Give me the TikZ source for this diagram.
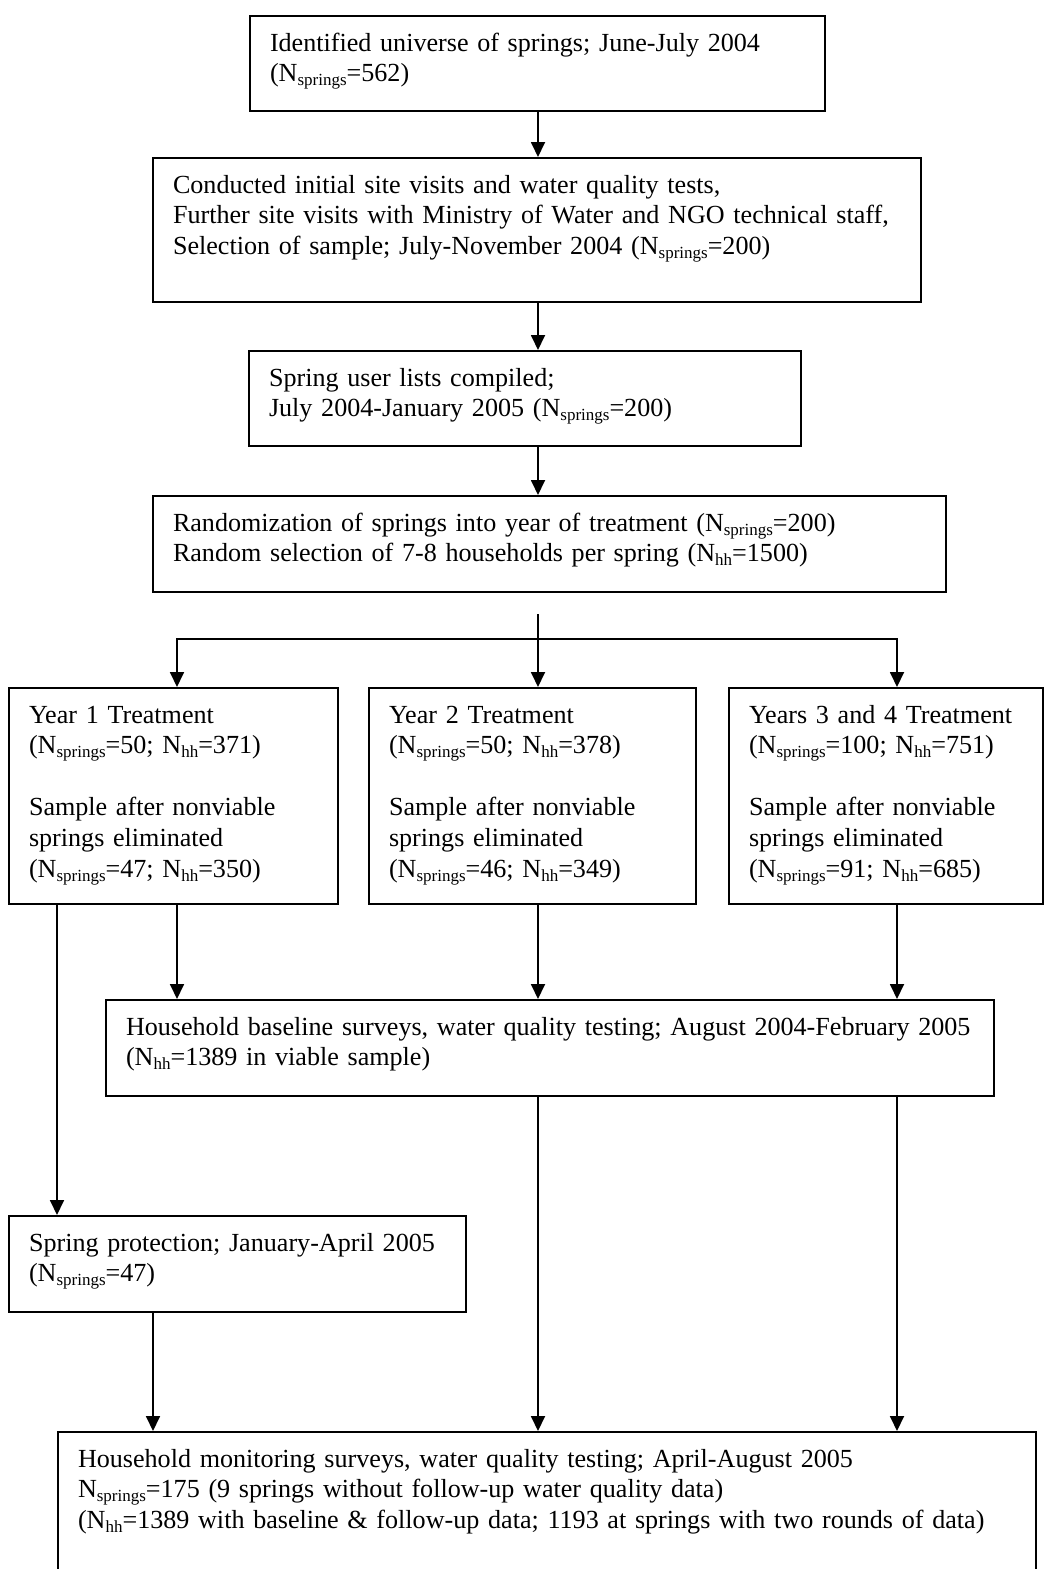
\documentclass[tikz,border=0pt]{standalone}
\usepackage{fontspec}
\setmainfont{Liberation Serif}
\usepackage{tikz}
\usetikzlibrary{calc,positioning,arrows.meta}
\newcommand{\boxfont}{\fontsize{26.1pt}{30.8pt}\selectfont}
\newcommand{\lowtxt}[1]{\raisebox{-4pt}{\fontsize{17pt}{17pt}\selectfont #1}}
\newcommand{\Nspr}{N\lowtxt{springs}}
\newcommand{\Nhh}{N\lowtxt{hh}}
\begin{document}
\begin{tikzpicture}[x=1pt,y=-1pt]
\tikzstyle{stage}=[draw, line width=2pt, anchor=north west, align=left, font=\boxfont, inner xsep=20pt, inner ysep=0pt, text height=35pt]
\tikzstyle{flow}=[line width=1.8pt, -{Triangle[length=15pt,width=14pt]}]
\useasboundingbox (0,0) rectangle (1044,1569);

\coordinate (colL) at (57,0);
\coordinate (colP) at (153,0);
\coordinate (colA) at (177,0);
\coordinate (colB) at (538,0);
\coordinate (colC) at (897,0);
\coordinate (split) at (538,614);
\coordinate (branch) at (538,639);

\node[stage, text width=535pt, text depth=60pt] (ident) at (249,15) {Identified universe of springs; June-July 2004\\(\Nspr=562)};
\node[stage, text width=728pt, text depth=109pt] (visits) at (152,157) {Conducted initial site visits and water quality tests,\\Further site visits with Ministry of Water and NGO technical staff,\\Selection of sample; July-November 2004 (\Nspr=200)};
\node[stage, text width=512pt, text depth=60pt] (lists) at (248,350) {Spring user lists compiled;\\July 2004-January 2005 (\Nspr=200)};
\node[stage, text width=753pt, text depth=61pt] (random) at (152,495) {Randomization of springs into year of treatment (\Nspr=200)\\Random selection of 7-8 households per spring (\Nhh=1500)};

\node[stage, text width=289pt, text depth=181pt] (yr1) at (8,687) {Year 1 Treatment\\(\Nspr=50; \Nhh=371)\\[30.8pt]Sample after nonviable\\springs eliminated\\(\Nspr=47; \Nhh=350)};
\node[stage, text width=287pt, text depth=181pt] (yr2) at (368,687) {Year 2 Treatment\\(\Nspr=50; \Nhh=378)\\[30.8pt]Sample after nonviable\\springs eliminated\\(\Nspr=46; \Nhh=349)};
\node[stage, text width=274pt, text depth=181pt] (yr3) at (728,687) {Years 3 and 4 Treatment\\(\Nspr=100; \Nhh=751)\\[30.8pt]Sample after nonviable\\springs eliminated\\(\Nspr=91; \Nhh=685)};

\node[stage, text width=848pt, text depth=61pt] (base) at (105,999) {\mbox{Household baseline surveys, water quality testing; August 2004-February 2005}\\(\Nhh=1389 in viable sample)};
\node[stage, text width=417pt, text depth=61pt] (prot) at (8,1215) {Spring protection; January-April 2005\\(\Nspr=47)};
\node[stage, text width=938pt, text depth=134pt] (monit) at (57,1431) {Household monitoring surveys, water quality testing; April-August 2005\\\Nspr=175 (9 springs without follow-up water quality data)\\(\Nhh=1389 with baseline \& follow-up data; 1193 at springs with two rounds of data)};

% main spine
\foreach \a/\b in {ident/visits, visits/lists, lists/random}{\draw[flow] (\a.south -| colB) -- (\b.north -| colB);}
\draw[flow] (split) -- (yr2.north -| colB);
\draw[flow] (branch) -| (yr1.north -| colA);
\draw[flow] (branch) -| (yr3.north -| colC);

% into baseline and monitoring
\foreach \a/\c in {yr1/colA, yr2/colB, yr3/colC}{\draw[flow] (\a.south -| \c) -- (base.north -| \c);}
\draw[flow] (yr1.south -| colL) -- (prot.north -| colL);
\draw[flow] (prot.south -| colP) -- (monit.north -| colP);
\foreach \c in {colB, colC}{\draw[flow] (base.south -| \c) -- (monit.north -| \c);}
\end{tikzpicture}
\end{document}
